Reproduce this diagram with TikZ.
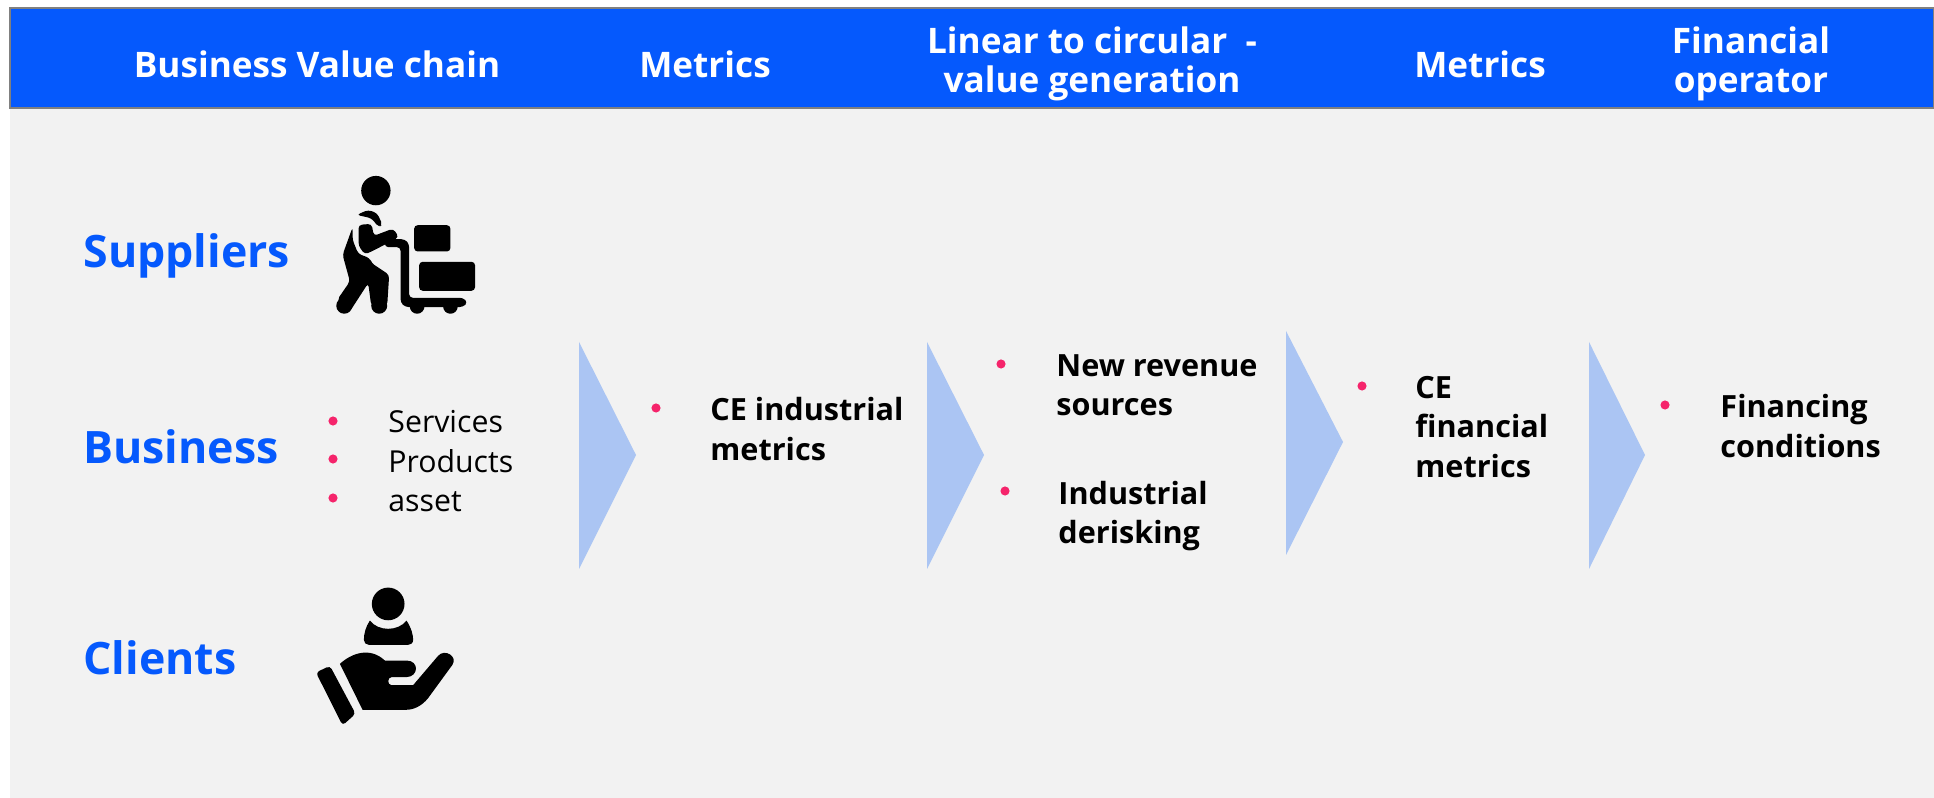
\documentclass[tikz,border=0pt]{standalone}
\usepackage{fontspec}
\setmainfont{Open Sans}
\definecolor{headblue}{HTML}{0559FD}
\definecolor{panelgray}{HTML}{F2F2F2}
\definecolor{arrowblue}{HTML}{ABC5F3}
\definecolor{bulletpink}{HTML}{F5246B}
\tikzset{
    headtext/.style={text=white, font=\fontsize{10pt}{11.2pt}\bfseries\selectfont, align=center},
    sidetext/.style={text=headblue, font=\fontsize{12.7pt}{14pt}\bfseries\selectfont, anchor=west},
    itemtext/.style={text=black, font=\fontsize{8.6pt}{11.2pt}\selectfont, anchor=west},
    boldtext/.style={text=black, font=\fontsize{8.7pt}{11.2pt}\bfseries\selectfont, anchor=west, align=left},
    chevron/.style={fill=arrowblue},
    bullet/.style={fill=bulletpink}
}
\begin{document}
\begin{tikzpicture}[x=0.01cm, y=-0.01cm]
    \useasboundingbox (0,0) rectangle (1934,798);
    % Draw the panel and the header
    \fill[white] (0,0) rectangle (1934,798);
    \fill[panelgray] (10,108) rectangle (1934,798);
    \draw[fill=headblue, draw=gray, line width=0.4pt] (10,8) rectangle (1934,108);
    % Header labels
    \node[headtext] (chainhead) at (317,64) {Business Value chain};
    \node[headtext] (metricshead) at (705,64) {Metrics};
    \node[headtext] (linearhead) at (1092,64) {Linear to circular\ \ -\\value generation};
    \node[headtext] (metricstwohead) at (1480,64) {Metrics};
    \node[headtext] (operatorhead) at (1751,64) {Financial\\operator};
    % Labels on the left
    \node[sidetext] (suppliers) at (71,256) {Suppliers};
    \node[sidetext] (business) at (71,447) {Business};
    \node[sidetext] (clients) at (71,658) {Clients};
    % Draw the worker with the cart
    \begin{scope}[shift={(300,150)}, x=0.003333cm, y=-0.003333cm]
        \fill[black] (228,122) circle (0.1467cm);
        \fill[black, rounded corners=1pt] (170,195) -- (205,180) -- (232,190) -- (248,225) -- (236,232) -- (215,205) -- cycle;
        \fill[black, rounded corners=1pt] (176,225) -- (215,222) -- (222,258) -- (280,236) -- (297,262) -- (225,300) -- (195,314) -- (176,288) -- cycle;
        \fill[black, rounded corners=1pt] (158,232) -- (128,315) -- (150,395) -- (112,450) -- (150,485) -- (205,400) -- (214,468) -- (262,468) -- (268,375) -- (215,340) -- (210,325) -- (175,312) -- (158,270) -- cycle;
        \fill[black] (133,468) circle (0.08cm);
        \fill[black] (238,468) circle (0.08cm);
        \fill[black, rounded corners=1pt] (255,268) -- (315,268) -- (328,282) -- (328,444) -- (490,444) -- (504,458) -- (490,472) -- (316,472) -- (302,458) -- (302,292) -- (255,292) -- cycle;
        \fill[black] (352,470) circle (0.0733cm);
        \fill[black] (452,470) circle (0.0733cm);
        \fill[black, rounded corners=1pt] (343,226) rectangle (452,305);
        \fill[black, rounded corners=1pt] (358,336) rectangle (526,423);
    \end{scope}
    % Draw the hand with the client
    \begin{scope}[shift={(290,570)}, x=0.003333cm, y=-0.003333cm]
        \fill[black] (295,102) circle (0.1633cm);
        \fill[black] (240,152) .. controls (265,185) and (325,185) .. (350,152) .. controls (365,175) and (370,195) .. (370,210) .. controls (370,220) and (362,225) .. (355,225) -- (237,225) .. controls (228,225) and (222,218) .. (222,210) .. controls (222,190) and (228,170) .. (240,152) -- cycle;
        \fill[black, rounded corners=1pt] (78,308) -- (120,288) -- (197,432) -- (158,467) -- cycle;
        \fill[black] (150,282) .. controls (185,250) and (240,230) .. (285,272) -- (350,272) .. controls (388,272) and (388,320) .. (350,322) -- (305,322) .. controls (292,322) and (292,346) .. (305,346) -- (370,346) -- (445,258) .. controls (465,235) and (505,260) .. (488,285) -- (415,385) .. controls (395,410) and (370,420) .. (350,420) -- (218,420) -- cycle;
    \end{scope}
    % Draw the four chevrons
    \fill[chevron] (579,342) -- (636,455) -- (579,569) -- cycle;
    \fill[chevron] (927,342) -- (984,455) -- (927,569) -- cycle;
    \fill[chevron] (1286,331) -- (1343,442) -- (1286,555) -- cycle;
    \fill[chevron] (1589,342) -- (1645,455) -- (1589,569) -- cycle;
    % Business items
    \fill[bullet] (333,421) circle (2.6pt/2);
    \fill[bullet] (333,459) circle (2.6pt/2);
    \fill[bullet] (333,498) circle (2.6pt/2);
    \node[itemtext] (services) at (376,422) {Services};
    \node[itemtext] (products) at (376,461) {Products};
    \node[itemtext] (asset) at (376,502) {asset};
    % Bold items with their bullets
    \fill[bullet] (656,408) circle (2.6pt/2);
    \node[boldtext] (industrial) at (698,429) {CE industrial\\metrics};
    \fill[bullet] (1001,364) circle (2.6pt/2);
    \node[boldtext] (revenue) at (1044,385) {New revenue\\sources};
    \fill[bullet] (1005,491) circle (2.6pt/2);
    \node[boldtext] (derisking) at (1046,516) {Industrial\\derisking};
    \fill[bullet] (1362,386) circle (2.6pt/2);
    \node[boldtext] (financial) at (1403,427) {CE\\financial\\metrics};
    \fill[bullet] (1665,405) circle (2.6pt/2);
    \node[boldtext] (financing) at (1708,426) {Financing\\conditions};
\end{tikzpicture}
\end{document}
